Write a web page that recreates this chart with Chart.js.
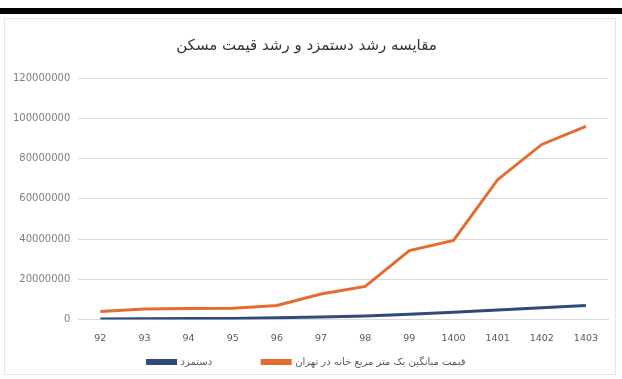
<!DOCTYPE html>
<html>
<head>
<meta charset="utf-8">
<script src="https://cdn.jsdelivr.net/npm/chart.js@4.4.0/dist/chart.umd.min.js"></script>
<style>
  html, body { margin: 0; padding: 0; background: #fff; }
  #wrap { position: relative; width: 622px; height: 379px; }
  #topbar { position: absolute; left: 0; top: 8px; width: 622px; height: 6px; background: #000; }
  #frame { position: absolute; left: 4px; top: 18px; width: 612px; height: 357px; border: 1px solid #e6e6e6; box-sizing: border-box; }
  canvas { position: absolute; left: 0; top: 0; }
</style>
</head>
<body>
<div id="wrap">
  <div id="topbar"></div>
  <div id="frame"></div>
  <canvas id="chart" width="622" height="379"></canvas>
</div>
<script>
// ── data ──
const years = ['92', '93', '94', '95', '96', '97', '98', '99', '1400', '1401', '1402', '1403'];
const wages = [300000, 400000, 500000, 600000, 900000, 1300000, 1800000, 2600000, 3700000, 4800000, 5900000, 7000000];
const housePrice = [4000000, 5300000, 5500000, 5600000, 7000000, 12700000, 16500000, 34300000, 39300000, 69500000, 87000000, 96000000];
const yTicks = [0, 20000000, 40000000, 60000000, 80000000, 100000000, 120000000];

const titleText = 'مقایسه رشد دستمزد و رشد قیمت مسکن';
const wageLabel = 'دستمزد';
const priceLabel = 'قیمت میانگین یک متر مربع خانه در تهران';

const BLUE = '#2f4b7c';
const ORANGE = '#e46c30';
const FONT = '"DejaVu Sans", "Noto Sans", sans-serif';

// legend items sit wide apart (big padding) but the box is capped short;
// after layout pull its top edge up so the row lands where it should
const LEGEND_TOP = 307;
const legendLift = {
    id: 'legendLift',
    afterLayout(chart) {
        const lg = chart.legend;
        if (lg) lg.top = LEGEND_TOP;
    }
};

new Chart(document.getElementById('chart'), {
    type: 'line',
    data: {
        labels: years,
        datasets: [
            {
                label: wageLabel,
                data: wages,
                borderColor: BLUE,
                backgroundColor: BLUE,
                borderWidth: 3,
                pointRadius: 0,
                tension: 0,
                fill: false
            },
            {
                label: priceLabel,
                data: housePrice,
                borderColor: ORANGE,
                backgroundColor: ORANGE,
                borderWidth: 3,
                pointRadius: 0,
                tension: 0,
                fill: false
            }
        ]
    },
    plugins: [legendLift],
    options: {
        responsive: false,
        animation: false,
        layout: { padding: { left: 5, right: 14, top: 22, bottom: 6 } },
        plugins: {
            title: {
                display: true,
                text: titleText,
                color: '#333333',
                font: { family: FONT, size: 15, weight: 'normal' },
                padding: { top: 15, bottom: 23 }
            },
            legend: {
                position: 'bottom',
                maxHeight: 16,
                labels: {
                    color: '#595959',
                    font: { family: FONT, size: 10 },
                    boxWidth: 28,
                    boxHeight: 3,
                    padding: 50
                }
            },
            tooltip: { enabled: false }
        },
        scales: {
            y: {
                min: 0,
                max: 120000000,
                afterBuildTicks: axis => { axis.ticks = yTicks.map(v => ({ value: v })); },
                grid: { color: '#d9d9d9', drawTicks: false },
                border: { display: false },
                ticks: {
                    color: '#7f7f7f',
                    font: { family: FONT, size: 10 },
                    padding: 8,
                    callback: v => String(v)
                }
            },
            x: {
                offset: true,
                grid: { display: false, drawTicks: false },
                border: { display: true, color: '#d9d9d9' },
                ticks: {
                    color: '#595959',
                    font: { family: FONT, size: 9.5 },
                    padding: 13,
                    maxRotation: 0,
                    autoSkip: false
                }
            }
        }
    }
});
</script>
</body>
</html>
